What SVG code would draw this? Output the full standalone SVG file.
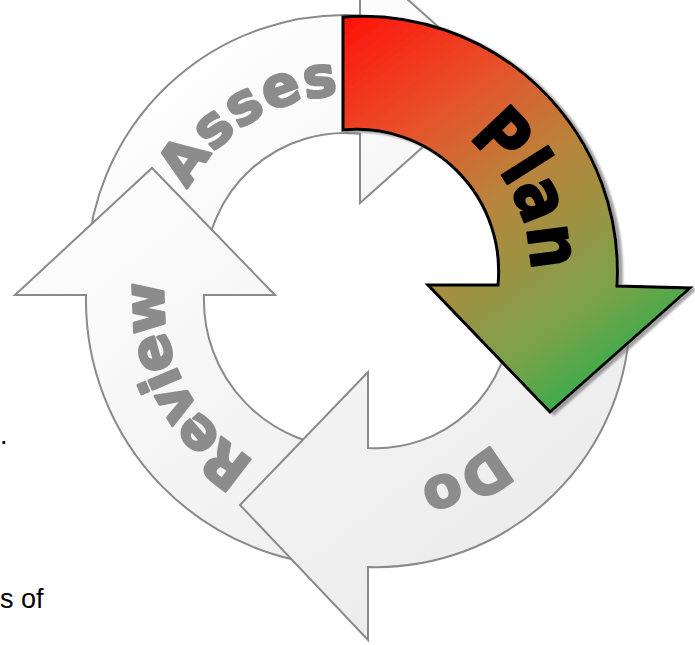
<svg xmlns="http://www.w3.org/2000/svg" width="695" height="645" viewBox="0 0 695 645">
  <defs>
    <linearGradient id="planGrad" gradientUnits="userSpaceOnUse" x1="343" y1="17" x2="620" y2="400">
      <stop offset="0" stop-color="#ff120a"/>
      <stop offset="0.27" stop-color="#e8502a"/>
      <stop offset="0.5" stop-color="#b8853c"/>
      <stop offset="0.8" stop-color="#7ba24a"/>
      <stop offset="1" stop-color="#22b04c"/>
    </linearGradient>
    <linearGradient id="grayGrad" gradientUnits="userSpaceOnUse" x1="150" y1="50" x2="550" y2="560">
      <stop offset="0" stop-color="#ffffff"/>
      <stop offset="1" stop-color="#ebebeb"/>
    </linearGradient>
    <filter id="shadow" x="-10%" y="-10%" width="130%" height="130%">
      <feDropShadow dx="4" dy="2" stdDeviation="1.2" flood-color="#7a7a7a" flood-opacity="0.7"/>
    </filter>
    <path id="tpAssess" d="M 187.8 189.4 A 178 178 0 0 1 375.9 97.7"/>
    <path id="tpReview" d="M 255.2 461.2 A 188 188 0 0 1 175.3 235.7"/>
    <path id="tpDo" d="M 493.1 443 A 175 175 0 0 1 360.7 487.3"/>
    <path id="tpPlan" d="M 467.6 138.1 A 171 171 0 0 1 520.7 329.5"/>
  </defs>
  <style>
    .gray { fill: url(#grayGrad); stroke: #8a8a8a; stroke-width: 2; stroke-linejoin: miter; }
    .plan { fill: url(#planGrad); stroke: #000000; stroke-width: 3; stroke-linejoin: miter; }
    .glabel { font-family: "DejaVu Sans", "Liberation Sans", sans-serif; font-weight: bold; font-size: 56px; fill: #8c8c8c; stroke: #8c8c8c; stroke-width: 2.5; stroke-linejoin: round; }
    .plabel { font-family: "DejaVu Sans", "Liberation Sans", sans-serif; font-weight: bold; font-size: 72px; fill: #000000; stroke: #000000; stroke-width: 2.2; stroke-linejoin: round; }
    .body { font-family: "Liberation Sans", "Open Sans", sans-serif; font-size: 27px; fill: #000000; }
  </style>

  <g id="connectors"></g>

  <g id="node-assess">
    <path class="gray" d="M 87 273 A 258 258 0 0 1 360 15.4 L 360 -43 L 498 80 L 360 203 L 360 133.8 A 140 140 0 0 0 205 273 Z"/>
    <text class="glabel"><textPath href="#tpAssess" textLength="186" lengthAdjust="spacing">Asses</textPath></text>
  </g>

  <g id="node-review">
    <path class="gray" d="M 352 566 A 266 266 0 0 1 86 295 L 15 295 L 152 168 L 275 295 L 204 295 A 148 148 0 0 0 352 448 Z"/>
    <text class="glabel"><textPath href="#tpReview" textLength="212" lengthAdjust="spacing">Review</textPath></text>
  </g>

  <g id="node-do">
    <path class="gray" d="M 630 313 A 254 254 0 0 1 368 567 L 368 640 L 240 505 L 368 372 L 368 448 A 135 135 0 0 0 511 313 Z"/>
    <text class="glabel"><textPath href="#tpDo" textLength="85" lengthAdjust="spacing">Do</textPath></text>
  </g>

  <g id="node-plan">
    <path class="plan" filter="url(#shadow)" d="M 343 17 A 255 255 0 0 1 617 286 L 690 288 L 550 412 L 428 285 L 498 285 A 142 142 0 0 0 343 130 Z"/>
    <text class="plabel"><textPath href="#tpPlan" textLength="152" lengthAdjust="spacingAndGlyphs">Plan</textPath></text>
  </g>

  <g id="page-text">
    <text class="body" x="0" y="444">.</text>
    <text class="body" x="0" y="608">s of</text>
  </g>
</svg>
